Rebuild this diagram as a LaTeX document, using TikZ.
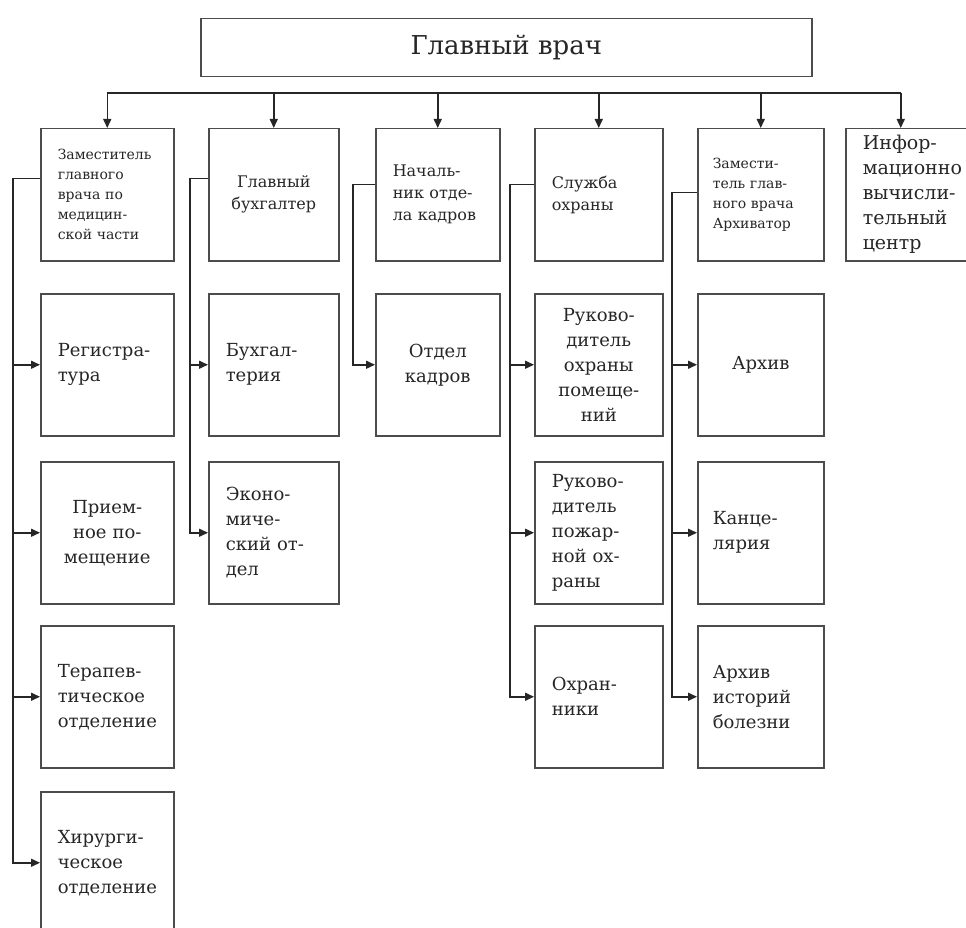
\documentclass[tikz,border=0pt]{standalone}
\usepackage{fontspec}
\setmainfont{DejaVu Serif}
\usetikzlibrary{positioning,arrows.meta}

\begin{document}
\begin{tikzpicture}[x=1pt,y=-1pt,
    box/.style={draw=black!70, line width=1.5pt, anchor=north west, inner xsep=17pt, inner ysep=0pt,
        minimum height=142pt, align=left, text=black!85, font=\fontsize{18}{25}\selectfont},
    head/.style={box, minimum height=132pt},
    wire/.style={draw=black!85, line width=1.5pt},
    arr/.style={wire, -{Triangle[length=9pt,width=8pt]}}]
    \useasboundingbox (0,0) rectangle (966,928);

    % Top
    \node[box, minimum width=611pt, minimum height=58pt, inner xsep=0pt, align=center,
        font=\fontsize{26}{32}\selectfont] (glav) at (200,18) {Главный врач};

    % First row
    \node[head, text width=99pt, font=\fontsize{14}{20}\selectfont] (zam) at (40,128) {Заместитель\\главного\\врача по\\медицин-\\ской части};
    \node[head, text width=96pt, align=center, font=\fontsize{16}{22}\selectfont] (buhg) at (208,128) {Главный\\бухгалтер};
    \node[head, text width=90pt, font=\fontsize{16}{22}\selectfont] (nach) at (375,128) {Началь-\\ник отде-\\ла кадров};
    \node[head, text width=94pt, font=\fontsize{16}{22}\selectfont] (sluzh) at (534,128) {Служба\\охраны};
    \node[head, text width=96pt, inner xsep=15pt, font=\fontsize{14}{20}\selectfont] (zama) at (697,128) {Замести-\\тель глав-\\ного врача\\Архиватор};
    \node[head, text width=96pt, font=\fontsize{19}{25}\selectfont] (info) at (845,128) {Инфор-\\мационно\\вычисли-\\тельный\\центр};

    % Departments
    \node[box, text width=99pt] (reg) at (40,293) {Регистра-\\тура};
    \node[box, text width=99pt, align=center] (priem) at (40,461) {Прием-\\ное по-\\мещение};
    \node[box, text width=99pt] (terap) at (40,625) {Терапев-\\тическое\\отделение};
    \node[box, text width=99pt] (hir) at (40,791) {Хирурги-\\ческое\\отделение};

    \node[box, text width=96pt] (buh) at (208,293) {Бухгал-\\терия};
    \node[box, text width=96pt] (ekon) at (208,461) {Эконо-\\миче-\\ский от-\\дел};

    \node[box, text width=90pt, align=center] (otdk) at (375,293) {Отдел\\кадров};

    \node[box, text width=94pt, align=center] (rukp) at (534,293) {Руково-\\дитель\\охраны\\помеще-\\ний};
    \node[box, text width=94pt] (ruko) at (534,461) {Руково-\\дитель\\пожар-\\ной ох-\\раны};
    \node[box, text width=94pt] (ohrn) at (534,625) {Охран-\\ники};

    \node[box, text width=96pt, inner xsep=15pt, align=center] (arhiv) at (697,293) {Архив};
    \node[box, text width=96pt, inner xsep=15pt] (kanc) at (697,461) {Канце-\\лярия};
    \node[box, text width=96pt, inner xsep=15pt] (arhb) at (697,625) {Архив\\историй\\болезни};

    % Bus from the chief
    \coordinate (bus) at (0,93);
    \coordinate (infotop) at ([xshift=-10pt]info.north);
    \draw[wire] (zam.north |- bus) -- (infotop |- bus);
    \foreach \n in {zam,buhg,nach,sluzh,zama,infotop}
        \draw[arr] (\n |- bus) -- (\n |- zam.north);

    % Side branches
    \foreach \c in {reg,priem,terap,hir}
        \draw[arr] ([yshift=16pt]zam.west) -- ++(-27,0) |- (\c.west);
    \foreach \c in {buh,ekon}
        \draw[arr] ([yshift=16pt]buhg.west) -- ++(-18,0) |- (\c.west);
    \draw[arr] ([yshift=10pt]nach.west) -- ++(-22,0) |- (otdk.west);
    \foreach \c in {rukp,ruko,ohrn}
        \draw[arr] ([yshift=10pt]sluzh.west) -- ++(-24,0) |- (\c.west);
    \foreach \c in {arhiv,kanc,arhb}
        \draw[arr] ([yshift=2pt]zama.west) -- ++(-25,0) |- (\c.west);
\end{tikzpicture}
\end{document}
